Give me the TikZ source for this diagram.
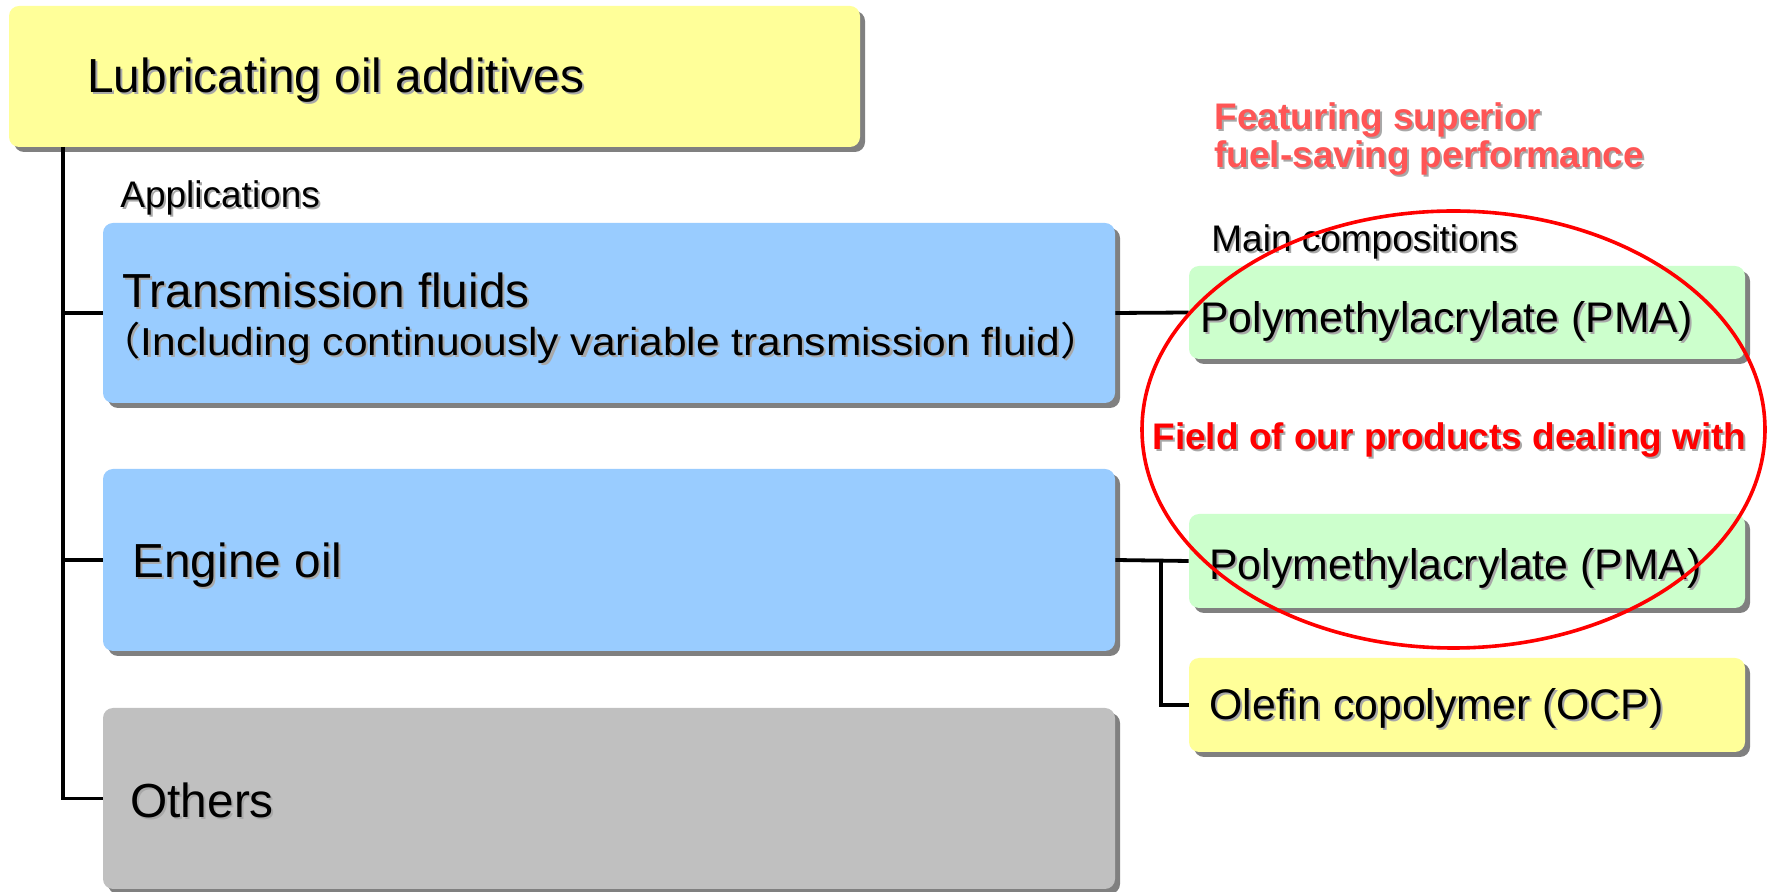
\documentclass[tikz,border=0pt]{standalone}
\usepackage{fontspec}
\setmainfont{Liberation Sans}
\newfontfamily\cjk{Noto Sans CJK JP}
\usetikzlibrary{shadows,shapes.geometric}
\definecolor{ttlyellow}{HTML}{FFFF99}
\definecolor{appblue}{HTML}{99CCFF}
\definecolor{othgray}{HTML}{C0C0C0}
\definecolor{pmagreen}{HTML}{CCFFCC}
\definecolor{boxshadow}{HTML}{808080}
\definecolor{txtshadow}{HTML}{A8A8A8}
\definecolor{featred}{HTML}{FF5555}
\definecolor{zonered}{HTML}{FF0000}
\newcommand{\shd}[1]{\rlap{\kern1pt\raisebox{-1pt}{\textcolor{txtshadow}{#1}}}#1}
\begin{document}
\begin{tikzpicture}[x=0.5pt,y=-0.5pt,
  box/.style={rectangle, rounded corners=5pt, inner sep=0pt,
    drop shadow={shadow xshift=2.5pt,shadow yshift=-2.5pt,fill=boxshadow,opacity=1}},
  big/.style={font=\fontsize{23.9pt}{28pt}\selectfont},
  mid/.style={font=\fontsize{21.4pt}{25pt}\selectfont},
  sub/.style={font=\fontsize{19.5pt}{23pt}\selectfont},
  small/.style={font=\fontsize{18.5pt}{22pt}\selectfont},
  lbl/.style={anchor=base west, inner sep=0pt},
  conn/.style={line width=1.9pt}]
\useasboundingbox[fill=white] (0,0) rectangle (1769,892);

% boxes
\node[box, fill=ttlyellow, minimum width=425.5pt, minimum height=70.5pt] (title) at (434.5,76.5) {};
\node[box, fill=appblue, minimum width=506pt, minimum height=90pt] (tr) at (609,313) {};
\node[box, fill=appblue, minimum width=506pt, minimum height=91pt] (eng) at (609,560) {};
\node[box, fill=othgray, minimum width=506pt, minimum height=90.5pt] (oth) at (609,798.5) {};
\node[box, fill=pmagreen, minimum width=278pt, minimum height=46.5pt] (g1) at (1467,312.5) {};
\node[box, fill=pmagreen, minimum width=278pt, minimum height=47pt] (g2) at (1467,561) {};
\node[box, fill=ttlyellow, minimum width=278pt, minimum height=47pt] (ocp) at (1467,705) {};

% connectors
\coordinate (trunk) at (63,147);
\coordinate (branch) at (1161,561);
\draw[conn] (trunk) |- (oth.west);
\draw[conn] (trunk |- tr.west) -- (tr.west);
\draw[conn] (trunk |- eng.west) -- (eng.west);
\draw[conn] (tr.east) -- (g1.west);
\draw[conn] (eng.east) -- (g2.west);
\draw[conn] (branch) |- (ocp.west);

% texts
\node[lbl, big] (ttltxt) at (87,93) {\shd{Lubricating oil additives}};
\node[lbl, small] (apptxt) at (120,208) {\shd{Applications}};
\node[lbl, big] (trtxt1) at (122,308) {\shd{Transmission fluids}};
\node[lbl, sub] (trtxt2) at (98,356) {\scalebox{1.09}[1]{\shd{{\cjk （}Including continuously variable transmission fluid{\cjk ）}}}};
\node[lbl, big] (engtxt) at (132,578) {\shd{Engine oil}};
\node[lbl, big] (othtxt) at (130,818) {\shd{Others}};
\node[lbl, small] (maintxt) at (1211,252) {\shd{Main compositions}};
\node[lbl, small, text=featred] (feat1) at (1214,130) {\bfseries\shd{Featuring superior}};
\node[lbl, small, text=featred] (feat2) at (1214,168) {\bfseries\shd{fuel-saving performance}};
\node[lbl, mid] (g1txt) at (1200,333) {\shd{Polymethylacrylate (PMA)}};
\node[lbl, mid] (g2txt) at (1209,580) {\shd{Polymethylacrylate (PMA)}};
\node[lbl, mid] (ocptxt) at (1209,720) {\shd{Olefin copolymer (OCP)}};
\node[lbl, small, text=zonered] (fieldtxt) at (1152,450) {\bfseries\shd{Field of our products dealing with}};

% highlight ellipse
\node[ellipse, draw=zonered, line width=1.8pt, inner sep=0pt, minimum width=311.5pt, minimum height=218.5pt] (zone) at (1453.5,429.5) {};
\end{tikzpicture}
\end{document}
